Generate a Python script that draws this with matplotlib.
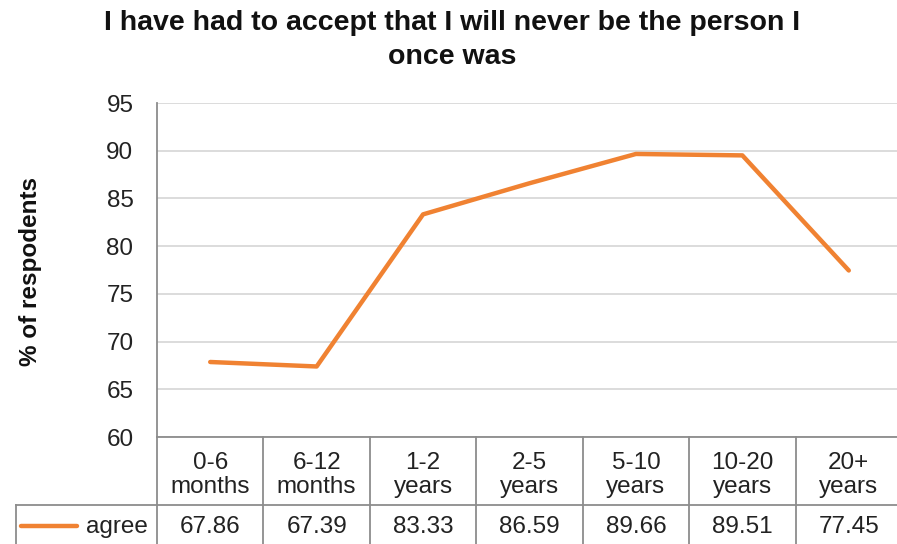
import matplotlib
matplotlib.use('Agg')
from matplotlib import pyplot
from matplotlib.transforms import blended_transform_factory

categories = ['0-6\nmonths', '6-12\nmonths', '1-2\nyears', '2-5\nyears',
              '5-10\nyears', '10-20\nyears', '20+\nyears']
agree = [67.86, 67.39, 83.33, 86.59, 89.66, 89.51, 77.45]
series_name = 'agree'
title = 'I have had to accept that I will never be the person I\nonce was'
y_label = '% of respodents'
y_ticks = [60, 65, 70, 75, 80, 85, 90, 95]

W, H = 897, 544
ORANGE = '#F08232'
GRID = '#D9D9D9'
BORDER = '#8C8C8C'
FS = 17.5

pyplot.rcParams['font.family'] = ['Liberation Sans', 'DejaVu Sans']

fig = pyplot.figure(figsize=(W / 100, H / 100), dpi=100)
ax = fig.add_axes([157 / W, (H - 437) / H, 745 / W, 334 / H])

xs = list(range(len(categories)))
ax.plot(xs, agree, color=ORANGE, linewidth=3.2, solid_capstyle='round',
        solid_joinstyle='round', zorder=3)
ax.set_xlim(-0.5, len(categories) - 0.5)
ax.set_ylim(y_ticks[0], y_ticks[-1])
ax.set_yticks(y_ticks)
ax.set_xticks([])
ax.tick_params(axis='y', length=0, pad=17, labelsize=FS, labelcolor='#222222')
ax.grid(axis='y', color=GRID, linewidth=1.3)
ax.set_axisbelow(True)
for side in ['top', 'right']:
    ax.spines[side].set_visible(False)
ax.spines['left'].set_color(BORDER)
ax.spines['left'].set_linewidth(1.3)
ax.spines['bottom'].set_color(BORDER)
ax.spines['bottom'].set_linewidth(1.3)

fig.text(452 / W, 1 - 40 / H, title, ha='center', va='center', fontsize=20.5,
         fontweight='bold', linespacing=1.38, color='#111111')
fig.text(30 / W, 1 - 272 / H, y_label, rotation=90, ha='center', va='center',
         fontsize=17.5, fontweight='bold', color='#111111')

# data table below the axis
tr = blended_transform_factory(ax.transData, fig.transFigure)
col_px = 740 / len(categories)
y_head_bot = (H - 505) / H
y_bottom = 0.0
y_axis = (H - 437) / H
left_cell = -0.5 - 140 / col_px
x_right = len(categories) - 0.5 + 0.05
line_kw = dict(color=BORDER, linewidth=1.3, transform=tr, clip_on=False)
ax.plot([left_cell, x_right], [y_head_bot, y_head_bot], **line_kw)
ax.plot([left_cell, left_cell], [y_head_bot, y_bottom], **line_kw)
ax.plot([-0.5, -0.5], [y_axis, y_bottom], **line_kw)
for i in range(len(categories)):
    x_edge = i + 0.5
    ax.plot([x_edge, x_edge], [y_axis, y_bottom], **line_kw)
    ax.text(i, (H - 475) / H, categories[i], transform=tr, ha='center',
            va='center', fontsize=FS, linespacing=1.15, color='#222222')
    ax.text(i, (H - 527) / H, f'{agree[i]:.2f}', transform=tr, ha='center',
            va='center', fontsize=FS, color='#222222')

leg_x0 = left_cell + 5 / col_px
leg_x1 = left_cell + 61 / col_px
ax.plot([leg_x0, leg_x1], [(H - 526) / H, (H - 526) / H], color=ORANGE,
        linewidth=3.2, solid_capstyle='round', transform=tr, clip_on=False)
ax.text(-0.5 - 9 / col_px, (H - 527) / H, series_name,
        transform=tr, ha='right', va='center', fontsize=FS, color='#222222')

fig.savefig('out.png', dpi=100)
